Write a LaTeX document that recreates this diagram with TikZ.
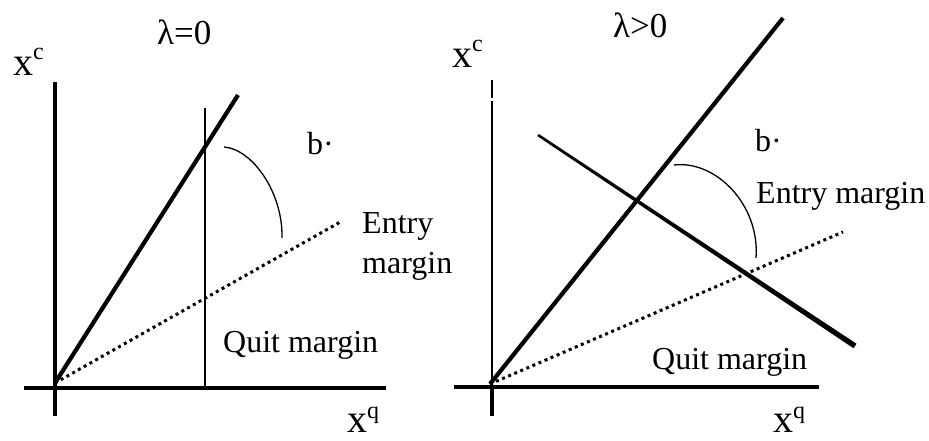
\documentclass[tikz,border=0pt]{standalone}
\usepackage{fontspec}
\setmainfont{Liberation Serif}
\usetikzlibrary{calc}
\begin{document}
\begin{tikzpicture}[x=1pt,y=-1pt,
  lbl/.style={anchor=base west,inner sep=0pt,font=\fontsize{32}{40}\selectfont},
  ttl/.style={anchor=base west,inner sep=0pt,font=\fontsize{35}{40}\selectfont},
  ax/.style={anchor=base west,inner sep=0pt,font=\fontsize{40}{44}\selectfont},
  axis/.style={line width=3.3pt},
  thickline/.style={line width=4.2pt},
  thinline/.style={line width=2.2pt},
  arcline/.style={line width=1.3pt},
  dotline/.style={line width=3pt,dash pattern=on 3pt off 3.6pt}]
\useasboundingbox (0,0) rectangle (929,441);
% ---------- left panel ----------
\coordinate (LvT) at (55,82);
\coordinate (LvB) at (55,416);
\coordinate (LhL) at (24,388);
\coordinate (LhR) at (386,388);
\coordinate (LO) at (55,383);
\coordinate (LdT) at (238,95);
\coordinate (LqT) at (205,108);
\coordinate (LqB) at (205,388);
\coordinate (LeE) at (342,221);
\coordinate (LaS) at (224,147);
\coordinate (LaE) at (282,238);
\draw[axis] (LvT) -- (LvB);
\draw[axis] (LhL) -- (LhR);
\draw[thickline] (LO) -- (LdT);
\draw[thinline] (LqT) -- (LqB);
\draw[dotline] (LO) -- (LeE);
\draw[arcline] (LaS) .. controls (252,149) and (283,192) .. (LaE);
\node[ttl] (Ltitle) at (157,45) {λ=0};
\node[ax] (Lxc) at (13,76) {x\raisebox{16pt}{\fontsize{24}{24}\selectfont c}};
\node[ax] (Lxq) at (347,432) {x\raisebox{14pt}{\fontsize{24}{24}\selectfont q}};
\node[lbl] (Lb) at (307,154) {b·};
\node[lbl,anchor=north west,align=left] (Lentry) at (362,212) {Entry\\margin};
\node[lbl] (Lquit) at (223,352) {Quit margin};
% ---------- right panel ----------
\coordinate (RvT) at (492,80);
\coordinate (RvG) at (492,98);
\coordinate (RvG2) at (492,101);
\coordinate (RvO) at (492,386);
\coordinate (RvB) at (492,416);
\coordinate (RhL) at (454,387);
\coordinate (RhR) at (819,387);
\coordinate (RO) at (490,384);
\coordinate (RdT) at (783,18);
\coordinate (RcS) at (538,135);
\coordinate (RcE) at (855,346);
\coordinate (ReE) at (843,232);
\coordinate (RaS) at (674,165);
\coordinate (RaE) at (756,258);
\draw[line width=1.4pt] (RvT) -- (RvG);
\draw[line width=2pt] (RvG2) -- (RvO);
\draw[axis] (RvO) -- (RvB);
\draw[line width=4pt] (RhL) -- (RhR);
\draw[thickline] (RO) -- (RdT);
\fill ($(RcS)!1.3pt!90:(RcE)$) -- ($(RcS)!1.3pt!-90:(RcE)$)
  -- ($(RcE)!2.7pt!90:(RcS)$) -- ($(RcE)!2.7pt!-90:(RcS)$) -- cycle;
\draw[dotline] (RO) -- (ReE);
\draw[arcline] (RaS) .. controls (716,160) and (760,205) .. (RaE);
\node[ttl] (Rtitle) at (613,38) {λ>0};
\node[ax] (Rxc) at (452,68) {x\raisebox{16pt}{\fontsize{24}{24}\selectfont c}};
\node[ax] (Rxq) at (773,432) {x\raisebox{14pt}{\fontsize{24}{24}\selectfont q}};
\node[lbl] (Rb) at (755,152) {b·};
\node[lbl] (Rentry) at (756,203) {Entry margin};
\node[lbl] (Rquit) at (652,369) {Quit margin};
\end{tikzpicture}
\end{document}
